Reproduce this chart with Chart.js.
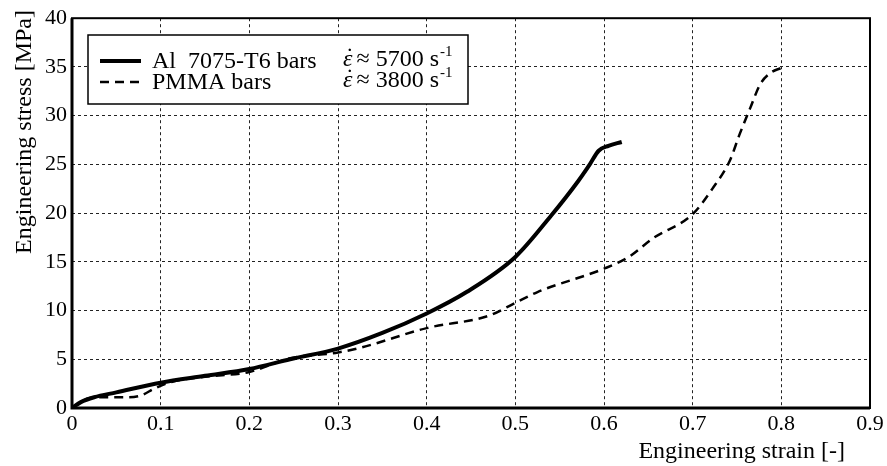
<!DOCTYPE html>
<html>
<head>
<meta charset="utf-8">
<script src="https://cdn.jsdelivr.net/npm/chart.js@4"></script>
<style>
  html, body { margin: 0; padding: 0; background: #fff; }
  canvas { display: block; }
</style>
</head>
<body>
<canvas id="stressChart" width="887" height="466"></canvas>
<script>
// Al 7075-T6 bars, strain rate ~5700 1/s
const STRAIN_AL = [0, 0.01, 0.025, 0.05, 0.1, 0.15, 0.2, 0.246, 0.3, 0.35, 0.4, 0.445, 0.5, 0.54, 0.571, 0.584, 0.594, 0.605, 0.62];
const STRESS_AL = [0, 0.6, 1.1, 1.6, 2.6, 3.3, 4.0, 5.0, 6.1, 7.7, 9.7, 11.9, 15.5, 19.7, 23.3, 25.0, 26.4, 26.9, 27.3];

// PMMA bars, strain rate ~3800 1/s
const STRAIN_PMMA = [0, 0.017, 0.029, 0.062, 0.078, 0.093, 0.113, 0.15, 0.2, 0.246, 0.3, 0.326, 0.4, 0.471, 0.5, 0.525, 0.6, 0.628, 0.655, 0.7, 0.723, 0.742, 0.753, 0.765, 0.776, 0.788, 0.8];
const STRESS_PMMA = [0, 0.95, 1.1, 1.1, 1.3, 2.0, 2.7, 3.2, 3.7, 5.1, 5.7, 6.2, 8.2, 9.5, 10.8, 11.9, 14.3, 15.5, 17.4, 19.9, 22.6, 25.4, 28.1, 30.8, 33.2, 34.4, 34.9];

const SERIES_NAMES = ['Al  7075-T6 bars', 'PMMA bars'];
const STRAIN_RATES = ['5700', '3800'];

const X_TICKS = [0, 0.1, 0.2, 0.3, 0.4, 0.5, 0.6, 0.7, 0.8, 0.9];
const X_TICK_LABELS = ['0', '0.1', '0.2', '0.3', '0.4', '0.5', '0.6', '0.7', '0.8', '0.9'];
const Y_TICKS = [0, 5, 10, 15, 20, 25, 30, 35, 40];
const Y_TICK_LABELS = ['0', '5', '10', '15', '20', '25', '30', '35', '40'];

const X_TITLE = 'Engineering strain [-]';
const Y_TITLE = 'Engineering stress [MPa]';

const SERIF = '"Liberation Serif", "DejaVu Serif", serif';

const toPoints = (xs, ys) => xs.map((x, i) => ({ x: x, y: ys[i] }));

// frame, axis titles and the boxed legend (two columns)
const decorations = {
    id: 'decorations',
    afterDraw(chart) {
        const ctx = chart.ctx;
        const a = chart.chartArea;
        ctx.save();

        // plot frame
        ctx.strokeStyle = '#000';
        ctx.lineWidth = 2;
        ctx.strokeRect(a.left, a.top, a.right - a.left, a.bottom - a.top);
        ctx.lineWidth = 3;
        ctx.beginPath();
        ctx.moveTo(a.left, a.top);
        ctx.lineTo(a.left, a.bottom);
        ctx.lineTo(a.right, a.bottom);
        ctx.stroke();

        // axis titles
        ctx.fillStyle = '#000';
        ctx.font = '24px ' + SERIF;
        ctx.textAlign = 'right';
        ctx.textBaseline = 'alphabetic';
        ctx.fillText(X_TITLE, a.right - 25, 458);
        ctx.save();
        ctx.translate(31, 10);
        ctx.rotate(-Math.PI / 2);
        ctx.fillText(Y_TITLE, 0, 0);
        ctx.restore();

        // legend box
        const box = { x: 88, y: 35, w: 380, h: 69 };
        ctx.fillStyle = '#fff';
        ctx.fillRect(box.x, box.y, box.w, box.h);
        ctx.lineWidth = 1.5;
        ctx.strokeStyle = '#000';
        ctx.strokeRect(box.x, box.y, box.w, box.h);

        const rows = [61, 82];
        chart.data.datasets.forEach((ds, i) => {
            const y = rows[i];
            ctx.beginPath();
            ctx.lineWidth = ds.borderWidth;
            ctx.setLineDash(ds.borderDash || []);
            ctx.moveTo(100, y);
            ctx.lineTo(141, y);
            ctx.stroke();
            ctx.setLineDash([]);

            ctx.fillStyle = '#000';
            ctx.textAlign = 'left';
            ctx.font = '24px ' + SERIF;
            ctx.fillText(SERIES_NAMES[i], 152, y + 7);

            // strain rate column
            let x = 343;
            ctx.font = 'italic 24px ' + SERIF;
            const ew = ctx.measureText('\u03B5').width;
            ctx.fillText('\u03B5', x, y + 5);
            ctx.textAlign = 'center';
            ctx.font = '24px ' + SERIF;
            ctx.fillText('\u02D9', x + ew / 2 + 2, y + 3);
            ctx.textAlign = 'left';
            x += ew + 4;
            const rate = '\u2248 ' + STRAIN_RATES[i] + ' s';
            ctx.fillText(rate, x, y + 5);
            x += ctx.measureText(rate).width + 1;
            ctx.font = '15px ' + SERIF;
            ctx.fillText('-1', x, y - 5);
        });
        ctx.restore();
    }
};

new Chart(document.getElementById('stressChart'), {
    type: 'scatter',
    data: {
        datasets: [
            {
                label: SERIES_NAMES[0],
                data: toPoints(STRAIN_AL, STRESS_AL),
                showLine: true,
                borderColor: '#000',
                borderWidth: 4,
                pointRadius: 0,
                cubicInterpolationMode: 'monotone'
            },
            {
                label: SERIES_NAMES[1],
                data: toPoints(STRAIN_PMMA, STRESS_PMMA),
                showLine: true,
                borderColor: '#000',
                borderWidth: 2.5,
                borderDash: [9, 6],
                pointRadius: 0,
                cubicInterpolationMode: 'monotone'
            }
        ]
    },
    options: {
        responsive: false,
        animation: false,
        devicePixelRatio: 1,
        layout: { padding: { top: 17, right: 17, left: 0, bottom: 0 } },
        plugins: { legend: { display: false }, tooltip: { enabled: false } },
        scales: {
            x: {
                type: 'linear',
                min: 0,
                max: 0.9,
                afterBuildTicks: s => { s.ticks = X_TICKS.map(v => ({ value: v })); },
                afterFit: s => { s.height = 58; },
                ticks: {
                    color: '#000',
                    font: { family: SERIF, size: 22 },
                    padding: 3,
                    maxRotation: 0,
                    callback: (v, i) => X_TICK_LABELS[i]
                },
                grid: { color: '#222', lineWidth: 1, drawTicks: false },
                border: { display: false, dash: [3, 3] }
            },
            y: {
                type: 'linear',
                min: 0,
                max: 40,
                afterBuildTicks: s => { s.ticks = Y_TICKS.map(v => ({ value: v })); },
                afterFit: s => { s.width = 72; },
                ticks: {
                    color: '#000',
                    font: { family: SERIF, size: 22 },
                    padding: 5,
                    callback: (v, i) => Y_TICK_LABELS[i]
                },
                grid: { color: '#222', lineWidth: 1, drawTicks: false },
                border: { display: false, dash: [3, 3] }
            }
        }
    },
    plugins: [decorations]
});
</script>
</body>
</html>
